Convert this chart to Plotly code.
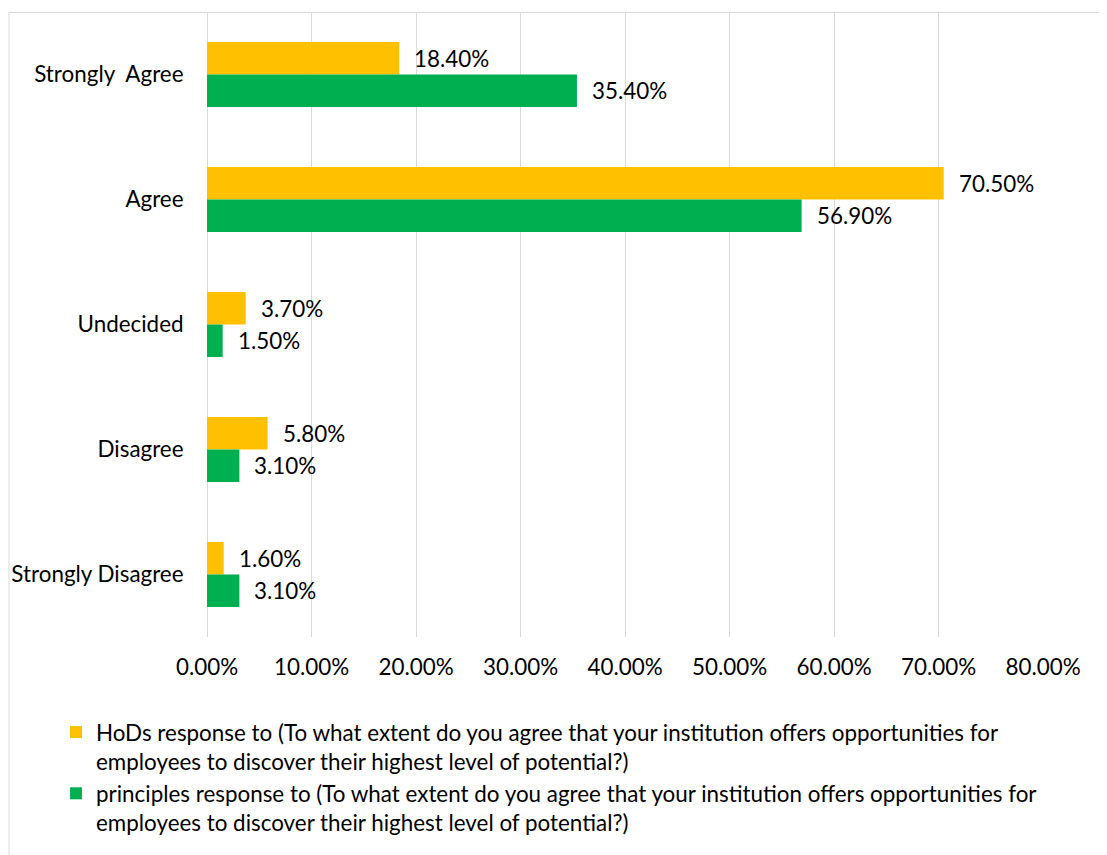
import plotly.graph_objects as go

categories = ["Strongly\u00a0 Agree", "Agree", "Undecided", "Disagree", "Strongly Disagree"]
hods = [0.184, 0.705, 0.037, 0.058, 0.016]
principles = [0.354, 0.569, 0.015, 0.031, 0.031]
x_ticks = [0.0, 0.1, 0.2, 0.3, 0.4, 0.5, 0.6, 0.7, 0.8]
hods_name = ("HoDs response to (To what extent do you agree that your institution offers opportunities for"
             "<br>employees to discover their highest level of potential?)")
principles_name = ("principles response to (To what extent do you agree that your institution offers opportunities for"
                   "<br>employees to discover their highest level of potential?)")

FONT = "Lato"
FS = 22.4
TXT = "#000000"
YELLOW = "#FFC000"
GREEN = "#00B050"
GRID = "#D9D9D9"

fig = go.Figure()
fig.add_trace(go.Bar(y=categories, x=hods, orientation="h", name=hods_name,
                     marker=dict(color=YELLOW, line=dict(width=0)), hoverinfo="x+y"))
fig.add_trace(go.Bar(y=categories, x=principles, orientation="h", name=principles_name,
                     marker=dict(color=GREEN, line=dict(width=0)), hoverinfo="x+y"))

off = 0.13
annotations = []
for i, v in enumerate(hods):
    annotations.append(dict(x=v, y=i - off, xref="x", yref="y", text=f"{v:.2%}",
                            showarrow=False, xanchor="left", yanchor="middle", xshift=13,
                            font=dict(family=FONT, size=FS, color=TXT)))
for i, v in enumerate(principles):
    annotations.append(dict(x=v, y=i + off, xref="x", yref="y", text=f"{v:.2%}",
                            showarrow=False, xanchor="left", yanchor="middle", xshift=13,
                            font=dict(family=FONT, size=FS, color=TXT)))

W, H = 1107, 855
L, R, T, B = 199, 72, 4, 226
pw, ph = W - L - R, H - T - B

def px2paper_x(px):
    return (px - L) / pw

def px2paper_y(py):
    return (H - B - py) / ph

fig.add_shape(type="rect", xref="paper", yref="paper",
              x0=px2paper_x(1), x1=px2paper_x(1115), y0=px2paper_y(870), y1=px2paper_y(4.5),
              line=dict(color=GRID, width=1), fillcolor="rgba(0,0,0,0)", layer="below")

fig.update_layout(
    width=W, height=H,
    margin=dict(l=L, r=R, t=T, b=B, pad=0),
    paper_bgcolor="white", plot_bgcolor="white",
    barmode="group", bargap=0.48, bargroupgap=0,
    font=dict(family=FONT, size=FS, color=TXT),
    showlegend=True,
    legend=dict(orientation="v", x=px2paper_x(48), xanchor="left",
                y=px2paper_y(703), yanchor="top", valign="top",
                font=dict(family=FONT, size=FS, color=TXT),
                traceorder="normal", bgcolor="rgba(0,0,0,0)", itemclick=False),
    annotations=annotations,
)
fig.update_xaxes(range=[0, 0.8], tickvals=x_ticks, tickformat=".2%",
                 showgrid=True, gridcolor=GRID, gridwidth=1,
                 zeroline=True, zerolinecolor=GRID, zerolinewidth=1,
                 showline=False, ticks="outside", ticklen=10, tickcolor="rgba(0,0,0,0)",
                 tickfont=dict(family=FONT, size=FS, color=TXT), fixedrange=True)
fig.update_yaxes(type="category", categoryorder="array", categoryarray=categories,
                 range=[4.5, -0.5], showgrid=False, zeroline=False, showline=False,
                 ticks="outside", ticklen=18, tickcolor="rgba(0,0,0,0)",
                 tickfont=dict(family=FONT, size=FS, color=TXT), fixedrange=True)

fig.write_html("out.html")
